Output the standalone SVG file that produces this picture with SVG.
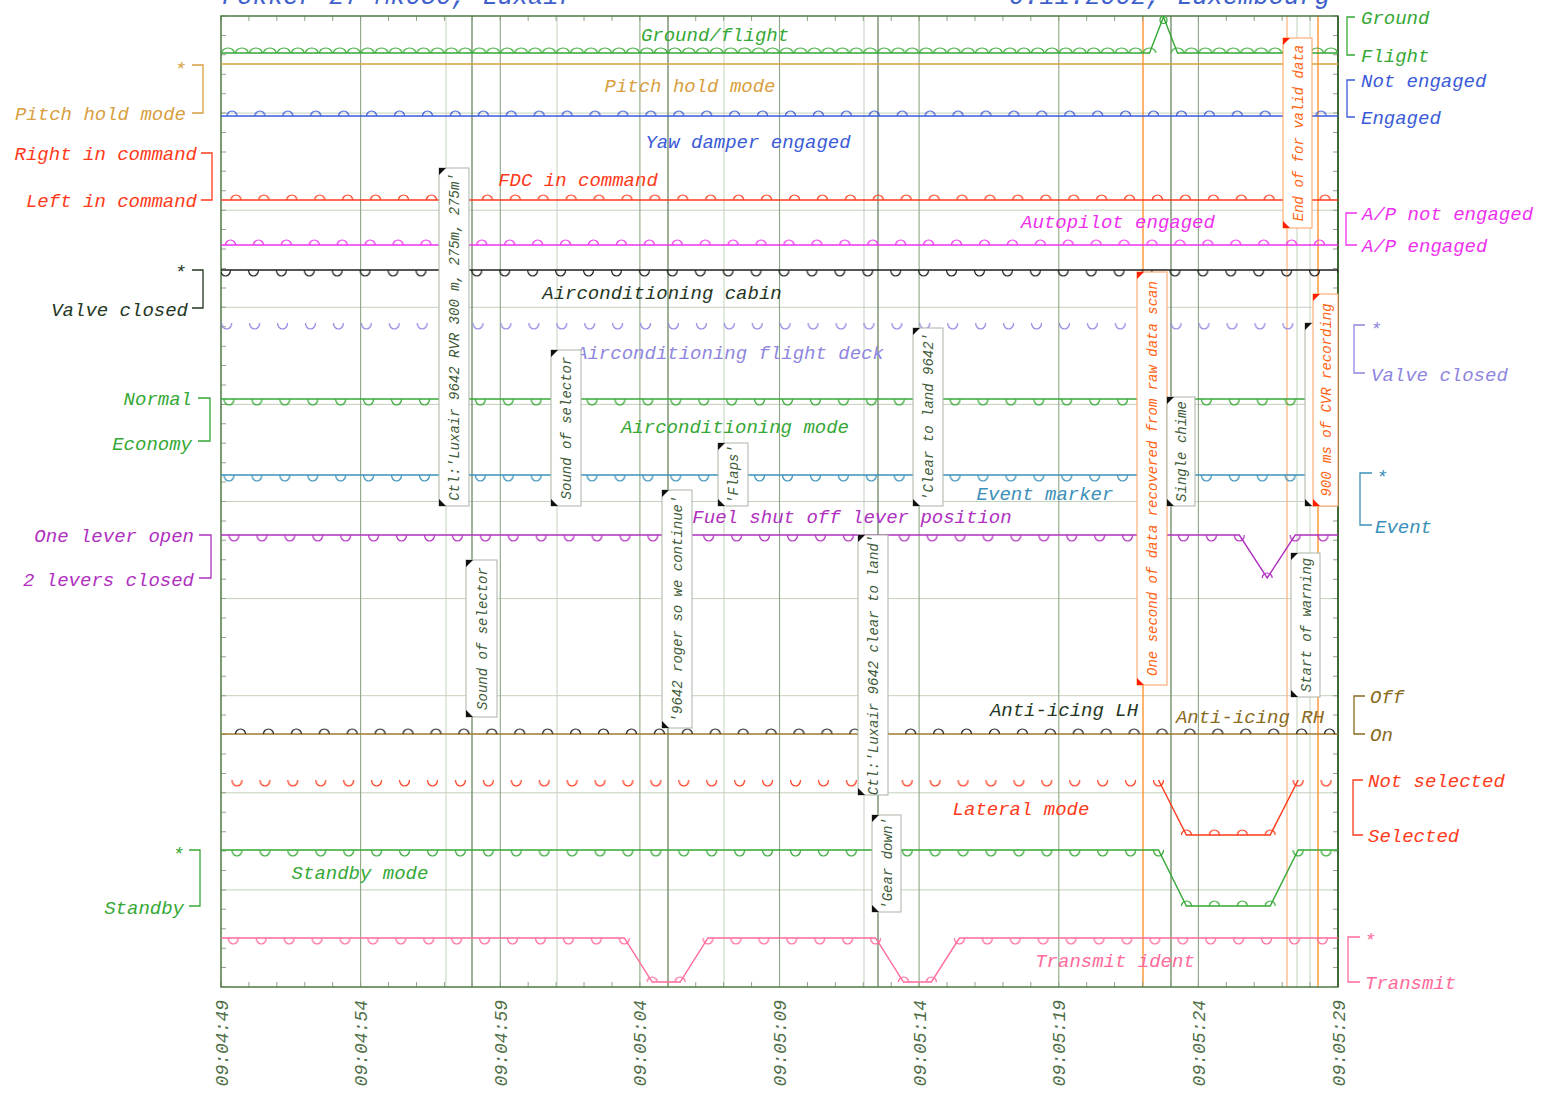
<svg xmlns="http://www.w3.org/2000/svg" width="1543" height="1093" viewBox="0 0 1543 1093">
<defs>
<style>
text{font-family:"Liberation Mono","DejaVu Sans Mono",monospace;font-style:italic}
.l{font-size:19px}
.c{font-size:14px}
.ax{font-size:18px;fill:#4f6e48}
.ti{font-size:25.5px;fill:#4060cc}
.box{fill:#fff;stroke:#a9b3a6;stroke-width:1}
.obox{fill:#fff;stroke:#ff9d5c;stroke-width:1}
.ct{fill:#3f5c3a}
.oct{fill:#ff6414}
.tri{fill:#111}
.otri{fill:#ff1e00}
.gl{stroke:#c3d1bd;stroke-width:1;fill:none}
.gd{stroke:#5f7f55;stroke-width:1.2;fill:none}
.gm{stroke:#8ea685;stroke-width:1.1;fill:none}
.tr{fill:none;stroke-width:1.4}
.br{fill:none;stroke-width:1.3}
.mk{fill:none;stroke-width:1.2}
</style>
<pattern id="pGF" patternUnits="userSpaceOnUse" x="221.2" y="43" width="13.9625" height="12"><path class="mk" d="M0.5,10a6.3,5 0 0 1 12.6,0" stroke="#35a835"/></pattern>
<pattern id="pYaw" patternUnits="userSpaceOnUse" x="226.5" y="106" width="27.925" height="12"><path class="mk" d="M0.5,10a5,5 0 0 1 10,0" stroke="#3a5ad8"/></pattern>
<pattern id="pFDC" patternUnits="userSpaceOnUse" x="230.5" y="190" width="27.925" height="12"><path class="mk" d="M0.5,10a5,5 0 0 1 10,0" stroke="#ff3a1a"/></pattern>
<pattern id="pAP" patternUnits="userSpaceOnUse" x="225" y="235" width="27.925" height="12"><path class="mk" d="M0.5,10a5,5 0 0 1 10,0" stroke="#ee30ee"/></pattern>
<pattern id="pCab" patternUnits="userSpaceOnUse" x="220" y="268" width="27.925" height="12"><path class="mk" d="M0.5,2a5,6 0 0 0 10,0" stroke="#1e1e1e"/></pattern>
<pattern id="pDeck" patternUnits="userSpaceOnUse" x="221.2" y="321" width="27.925" height="12"><path class="mk" d="M0.5,2a5,6 0 0 0 10,0" stroke="#8f86e0"/></pattern>
<pattern id="pMode" patternUnits="userSpaceOnUse" x="223.5" y="397" width="27.925" height="12"><path class="mk" d="M0.5,2a5,6 0 0 0 10,0" stroke="#35a835"/></pattern>
<pattern id="pEvt" patternUnits="userSpaceOnUse" x="223.5" y="473" width="27.925" height="12"><path class="mk" d="M0.5,2a5,6 0 0 0 10,0" stroke="#3a90b8"/></pattern>
<pattern id="pFuel" patternUnits="userSpaceOnUse" x="228.5" y="533" width="27.925" height="12"><path class="mk" d="M0.5,2a5,6 0 0 0 10,0" stroke="#b030c0"/></pattern>
<pattern id="pAnti" patternUnits="userSpaceOnUse" x="235" y="724" width="27.925" height="12"><path class="mk" d="M0.5,10a5,5 0 0 1 10,0" stroke="#1e1e1e"/></pattern>
<pattern id="pLatT" patternUnits="userSpaceOnUse" x="231.5" y="778" width="27.925" height="12"><path class="mk" d="M0.5,2a5,6 0 0 0 10,0" stroke="#ff3a1a"/></pattern>
<pattern id="pLatB" patternUnits="userSpaceOnUse" x="231.5" y="825" width="27.925" height="12"><path class="mk" d="M0.5,10a5,5 0 0 1 10,0" stroke="#ff3a1a"/></pattern>
<pattern id="pStbT" patternUnits="userSpaceOnUse" x="231.5" y="848" width="27.925" height="12"><path class="mk" d="M0.5,2a5,6 0 0 0 10,0" stroke="#35a835"/></pattern>
<pattern id="pStbB" patternUnits="userSpaceOnUse" x="231.5" y="896" width="27.925" height="12"><path class="mk" d="M0.5,10a5,5 0 0 1 10,0" stroke="#35a835"/></pattern>
<pattern id="pTrnT" patternUnits="userSpaceOnUse" x="227.8" y="936" width="27.925" height="12"><path class="mk" d="M0.5,2a5,6 0 0 0 10,0" stroke="#ff6a9a"/></pattern>
<pattern id="pTrnB" patternUnits="userSpaceOnUse" x="227.8" y="972" width="27.925" height="12"><path class="mk" d="M0.5,10a5,5 0 0 1 10,0" stroke="#ff6a9a"/></pattern>
</defs>

<rect x="0" y="0" width="1543" height="1093" fill="#fff"/>

<g id="title">
<text class="ti" x="222" y="4">Fokker 27 Mk050, Luxair</text>
<text class="ti" x="1330" y="4" text-anchor="end">6.11.2002, Luxembourg</text>
</g>

<g id="grid">
<path class="gl" d="M221,113.1H1338M221,210.2H1338M221,307.3H1338M221,404.4H1338M221,501.5H1338M221,598.6H1338M221,695.7H1338M221,792.8H1338M221,889.9H1338"/>
<path class="gm" d="M360.6,16V987M500.3,16V987M639.9,16V987M779.5,16V987M919.1,16V987M1058.8,16V987M1198.4,16V987"/>
<path class="gl" d="M446,16V987M557,16V987M724,16V987M864,16V987M1297,16V987M1310,16V987" stroke="#b3c4ab"/>
<path class="gd" d="M472,16V987M668,16V987M878,16V987M1171,16V987"/>
<path fill="none" stroke="#ff8a20" stroke-width="1.3" d="M1143,16V987M1318,16V987"/>
<path fill="none" stroke="#ffb27a" stroke-width="1.2" d="M1287,16V987"/>
<line x1="220.5" y1="18.5" x2="1338" y2="18.5" stroke="#8ea685" stroke-width="5" stroke-dasharray="1 26.925"/>
<line x1="220.5" y1="984.5" x2="1338" y2="984.5" stroke="#8ea685" stroke-width="5" stroke-dasharray="1 26.925"/>
<line x1="223.5" y1="15.5" x2="223.5" y2="987" stroke="#8ea685" stroke-width="5" stroke-dasharray="1 18.42"/>
<line x1="1335.5" y1="15.5" x2="1335.5" y2="987" stroke="#8ea685" stroke-width="5" stroke-dasharray="1 18.42"/>
<rect x="221" y="16" width="1117" height="971" fill="none" stroke="#4f7a45" stroke-width="1.5"/>
<path d="M1338,16V987" stroke="#3f6a38" stroke-width="2"/>
</g>

<g id="sig-groundflight">
<polyline class="tr" stroke="#35a835" points="221,53 1149.5,53 1163.5,17 1177.5,53 1338,53"/>
<circle cx="1163.5" cy="20" r="3.5" fill="none" stroke="#35a835" stroke-width="1.2"/>
<rect x="221" y="43" width="935.5" height="12" fill="url(#pGF)"/>
<rect x="1171" y="43" width="167" height="12" fill="url(#pGF)"/>
<text class="l" x="715" y="41" text-anchor="middle" fill="#35a835">Ground/flight</text>
<path class="br" stroke="#35a835" d="M1355,17H1347V55H1355"/>
<text class="l" x="1361" y="24" fill="#35a835">Ground</text>
<text class="l" x="1361" y="62" fill="#35a835">Flight</text>
</g>

<g id="sig-pitch">
<path class="tr" stroke="#d8a040" d="M221,64H1338"/>
<text class="l" x="690" y="92" text-anchor="middle" fill="#d8a040">Pitch hold mode</text>
<path class="br" stroke="#d8a040" d="M192,65H203V113H192"/>
<text class="l" x="186" y="74.5" text-anchor="end" fill="#d8a040">*</text>
<text class="l" x="186" y="120" text-anchor="end" fill="#d8a040">Pitch hold mode</text>
</g>

<g id="sig-yaw">
<path class="tr" stroke="#3a5ad8" d="M221,116H1338"/>
<rect x="221" y="106" width="1117" height="12" fill="url(#pYaw)"/>
<text class="l" x="748" y="148" text-anchor="middle" fill="#3a5ad8">Yaw damper engaged</text>
<path class="br" stroke="#3a5ad8" d="M1355,80H1347V117H1355"/>
<text class="l" x="1361" y="87" fill="#3a5ad8">Not engaged</text>
<text class="l" x="1361" y="124" fill="#3a5ad8">Engaged</text>
</g>

<g id="sig-fdc">
<path class="tr" stroke="#ff3a1a" d="M221,200H1338"/>
<rect x="221" y="190" width="1117" height="12" fill="url(#pFDC)"/>
<text class="l" x="578" y="186" text-anchor="middle" fill="#ff3a1a">FDC in command</text>
<path class="br" stroke="#ff3a1a" d="M201,153H212V200H201"/>
<text class="l" x="197" y="160" text-anchor="end" fill="#ff3a1a">Right in command</text>
<text class="l" x="197" y="207" text-anchor="end" fill="#ff3a1a">Left in command</text>
</g>

<g id="sig-autopilot">
<path class="tr" stroke="#ee30ee" d="M221,245H1338"/>
<rect x="221" y="235" width="1117" height="12" fill="url(#pAP)"/>
<text class="l" x="1118" y="228" text-anchor="middle" fill="#ee30ee">Autopilot engaged</text>
<path class="br" stroke="#ee30ee" d="M1357,213H1346V245H1357"/>
<text class="l" x="1362" y="220" fill="#ee30ee">A/P not engaged</text>
<text class="l" x="1362" y="252" fill="#ee30ee">A/P engaged</text>
</g>

<g id="sig-aircond-cabin">
<path class="tr" stroke="#1e1e1e" d="M221,270H1338"/>
<rect x="221" y="268" width="1117" height="12" fill="url(#pCab)"/>
<text class="l" x="662" y="299" text-anchor="middle" fill="#24361f">Airconditioning cabin</text>
<path class="br" stroke="#24361f" d="M192,270H203V308H192"/>
<text class="l" x="186" y="277.5" text-anchor="end" fill="#24361f">*</text>
<text class="l" x="188" y="316" text-anchor="end" fill="#24361f">Valve closed</text>
</g>

<g id="sig-aircond-deck">
<rect x="221" y="321" width="1117" height="12" fill="url(#pDeck)"/>
<text class="l" x="730" y="359" text-anchor="middle" fill="#8f86e0">Airconditioning flight deck</text>
<path class="br" stroke="#8f86e0" d="M1365,325H1354V373H1365"/>
<text class="l" x="1370" y="334.5" fill="#8f86e0">*</text>
<text class="l" x="1371" y="381" fill="#8f86e0">Valve closed</text>
</g>

<g id="sig-aircond-mode">
<path class="tr" stroke="#35a835" d="M221,399H1338"/>
<rect x="221" y="397" width="1117" height="12" fill="url(#pMode)"/>
<text class="l" x="735" y="433" text-anchor="middle" fill="#35a835">Airconditioning mode</text>
<path class="br" stroke="#35a835" d="M198,398H210V441H198"/>
<text class="l" x="192" y="405" text-anchor="end" fill="#35a835">Normal</text>
<text class="l" x="192" y="450" text-anchor="end" fill="#35a835">Economy</text>
</g>

<g id="sig-event">
<path class="tr" stroke="#3a90b8" d="M221,475H1338"/>
<rect x="221" y="473" width="1117" height="12" fill="url(#pEvt)"/>
<text class="l" x="1045" y="500" text-anchor="middle" fill="#3a90b8">Event marker</text>
<path class="br" stroke="#3a90b8" d="M1372,473H1360V525H1372"/>
<text class="l" x="1376" y="482.5" fill="#3a90b8">*</text>
<text class="l" x="1375" y="533" fill="#3a90b8">Event</text>
</g>

<g id="sig-fuel">
<polyline class="tr" stroke="#b030c0" points="221,535 1239.3,535 1267.2,578 1295.2,535 1338,535"/>
<rect x="221" y="533" width="1024.5" height="12" fill="url(#pFuel)"/>
<rect x="1289" y="533" width="49" height="12" fill="url(#pFuel)"/>
<path class="mk" stroke="#b030c0" d="M1262.2,578a5,5 0 0 1 10,0"/>
<text class="l" x="852" y="523" text-anchor="middle" fill="#b030c0">Fuel shut off lever position</text>
<path class="br" stroke="#b030c0" d="M199,535H211V578H199"/>
<text class="l" x="194" y="542" text-anchor="end" fill="#b030c0">One lever open</text>
<text class="l" x="194" y="586" text-anchor="end" fill="#b030c0">2 levers closed</text>
</g>

<g id="sig-antiicing">
<path class="tr" stroke="#a07a30" d="M221,734H1338"/>
<rect x="221" y="724" width="1117" height="12" fill="url(#pAnti)"/>
<text class="l" x="1064" y="716" text-anchor="middle" fill="#24361f">Anti-icing LH</text>
<text class="l" x="1250" y="723" text-anchor="middle" fill="#8a6a20">Anti-icing RH</text>
<path class="br" stroke="#8a6a20" d="M1365,696H1354V734H1365"/>
<text class="l" x="1370" y="703" fill="#8a6a20">Off</text>
<text class="l" x="1370" y="741" fill="#8a6a20">On</text>
</g>

<g id="sig-lateral">
<polyline class="tr" stroke="#ff3a1a" points="1158.5,780 1186.4,835 1270.2,835 1298.2,780"/>
<rect x="221" y="778" width="943.5" height="12" fill="url(#pLatT)"/>
<rect x="1292" y="778" width="46" height="12" fill="url(#pLatT)"/>
<rect x="1180" y="825" width="96.5" height="12" fill="url(#pLatB)"/>
<text class="l" x="1021" y="815" text-anchor="middle" fill="#ff3a1a">Lateral mode</text>
<path class="br" stroke="#ff3a1a" d="M1363,780H1353V835H1363"/>
<text class="l" x="1368" y="787" fill="#ff3a1a">Not selected</text>
<text class="l" x="1368" y="842" fill="#ff3a1a">Selected</text>
</g>

<g id="sig-standby">
<polyline class="tr" stroke="#35a835" points="221,850 1158.5,850 1186.4,906 1270.2,906 1298.2,850 1338,850"/>
<rect x="221" y="848" width="943.5" height="12" fill="url(#pStbT)"/>
<rect x="1292" y="848" width="46" height="12" fill="url(#pStbT)"/>
<rect x="1180" y="896" width="96.5" height="12" fill="url(#pStbB)"/>
<text class="l" x="360" y="879" text-anchor="middle" fill="#35a835">Standby mode</text>
<path class="br" stroke="#35a835" d="M189,850H200V906H189"/>
<text class="l" x="184" y="859.5" text-anchor="end" fill="#35a835">*</text>
<text class="l" x="184" y="914" text-anchor="end" fill="#35a835">Standby</text>
</g>

<g id="sig-transmit">
<polyline class="tr" stroke="#ff6a9a" points="221,938 624.3,938 652.2,982 680.1,982 708,938 875.6,938 903.5,982 931.4,982 959.4,938 1338,938"/>
<rect x="221" y="936" width="409.5" height="12" fill="url(#pTrnT)"/>
<rect x="702" y="936" width="179.5" height="12" fill="url(#pTrnT)"/>
<rect x="953.5" y="936" width="384.5" height="12" fill="url(#pTrnT)"/>
<rect x="646" y="972" width="40.5" height="12" fill="url(#pTrnB)"/>
<rect x="897.5" y="972" width="40" height="12" fill="url(#pTrnB)"/>
<text class="l" x="1115" y="967" text-anchor="middle" fill="#ff6a9a">Transmit ident</text>
<path class="br" stroke="#ff6a9a" d="M1360,937H1348V982H1360"/>
<text class="l" x="1364" y="946" fill="#ff6a9a">*</text>
<text class="l" x="1365" y="989" fill="#ff6a9a">Transmit</text>
</g>

<g id="callouts">
<g id="c-rvr"><rect class="box" x="439" y="168" width="30" height="338"/><path class="tri" d="M439,168h7l-7,7z"/><path class="tri" d="M439,506h7l-7,-7z"/><text class="c ct" transform="translate(459,337) rotate(-90)" text-anchor="middle">Ctl:'Luxair 9642 RVR 300 m, 275m, 275m'</text></g>
<g id="c-sound1"><rect class="box" x="551" y="350" width="30" height="156"/><path class="tri" d="M551,350h7l-7,7z"/><path class="tri" d="M551,506h7l-7,-7z"/><text class="c ct" transform="translate(571,428) rotate(-90)" text-anchor="middle">Sound of selector</text></g>
<g id="c-flaps"><rect class="box" x="718" y="443" width="30" height="63"/><path class="tri" d="M718,443h7l-7,7z"/><path class="tri" d="M718,506h7l-7,-7z"/><text class="c ct" transform="translate(738,474.5) rotate(-90)" text-anchor="middle">'Flaps'</text></g>
<g id="c-clear"><rect class="box" x="913" y="328" width="30" height="178"/><path class="tri" d="M913,328h7l-7,7z"/><path class="tri" d="M913,506h7l-7,-7z"/><text class="c ct" transform="translate(933,417) rotate(-90)" text-anchor="middle">'Clear to land 9642'</text></g>
<g id="c-sound2"><rect class="box" x="466" y="560" width="31" height="157"/><path class="tri" d="M466,560h7l-7,7z"/><path class="tri" d="M466,717h7l-7,-7z"/><text class="c ct" transform="translate(487,638.5) rotate(-90)" text-anchor="middle">Sound of selector</text></g>
<g id="c-roger"><rect class="box" x="662" y="490" width="30" height="238"/><path class="tri" d="M662,490h7l-7,7z"/><path class="tri" d="M662,728h7l-7,-7z"/><text class="c ct" transform="translate(682,609) rotate(-90)" text-anchor="middle">'9642 roger so we continue'</text></g>
<g id="c-ctlclear"><rect class="box" x="858" y="535" width="30" height="260"/><path class="tri" d="M858,535h7l-7,7z"/><path class="tri" d="M858,795h7l-7,-7z"/><text class="c ct" transform="translate(878,665) rotate(-90)" text-anchor="middle">Ctl:'Luxair 9642 clear to land'</text></g>
<g id="c-gear"><rect class="box" x="872" y="815" width="29" height="97"/><path class="tri" d="M872,815h7l-7,7z"/><path class="tri" d="M872,912h7l-7,-7z"/><text class="c ct" transform="translate(891.5,863.5) rotate(-90)" text-anchor="middle">'Gear down'</text></g>
<g id="c-onesecond"><rect class="obox" x="1137" y="272" width="30" height="413"/><path class="otri" d="M1137,272h7l-7,7z"/><path class="otri" d="M1137,685h7l-7,-7z"/><text class="c oct" transform="translate(1157,478.5) rotate(-90)" text-anchor="middle">One second of data recovered from raw data scan</text></g>
<g id="c-chime"><rect class="box" x="1167" y="397" width="28" height="109"/><path class="tri" d="M1167,397h7l-7,7z"/><path class="tri" d="M1167,506h7l-7,-7z"/><text class="c ct" transform="translate(1186,451.5) rotate(-90)" text-anchor="middle">Single chime</text></g>
<g id="c-warning"><rect class="box" x="1291" y="553" width="29" height="144"/><path class="tri" d="M1291,553h7l-7,7z"/><path class="tri" d="M1291,697h7l-7,-7z"/><text class="c ct" transform="translate(1310.5,625) rotate(-90)" text-anchor="middle">Start of warning</text></g>
<g id="c-hidden"><rect class="box" x="1305" y="323" width="30" height="183" stroke="#333"/><path class="tri" d="M1305,323h7l-7,7z"/><path class="tri" d="M1305,506h7l-7,-7z"/></g>
<g id="c-cvr"><rect class="obox" x="1313" y="294" width="25" height="212"/><path class="otri" d="M1313,294h7l-7,7z"/><path class="otri" d="M1313,506h7l-7,-7z"/><text class="c oct" transform="translate(1331,400) rotate(-90)" text-anchor="middle">900 ms of CVR recording</text></g>
<g id="c-validdata"><rect class="obox" x="1283" y="38" width="29" height="190"/><path class="otri" d="M1283,38h7l-7,7z"/><path class="otri" d="M1283,228h7l-7,-7z"/><text class="c oct" transform="translate(1302.5,133) rotate(-90)" text-anchor="middle">End of for valid data</text></g>
</g>

<g id="time-axis">
<text class="ax" transform="translate(227.5,1000) rotate(-90)" text-anchor="end">09:04:49</text>
<text class="ax" transform="translate(367.1,1000) rotate(-90)" text-anchor="end">09:04:54</text>
<text class="ax" transform="translate(506.8,1000) rotate(-90)" text-anchor="end">09:04:59</text>
<text class="ax" transform="translate(646.4,1000) rotate(-90)" text-anchor="end">09:05:04</text>
<text class="ax" transform="translate(786,1000) rotate(-90)" text-anchor="end">09:05:09</text>
<text class="ax" transform="translate(925.6,1000) rotate(-90)" text-anchor="end">09:05:14</text>
<text class="ax" transform="translate(1065.3,1000) rotate(-90)" text-anchor="end">09:05:19</text>
<text class="ax" transform="translate(1204.9,1000) rotate(-90)" text-anchor="end">09:05:24</text>
<text class="ax" transform="translate(1344.5,1000) rotate(-90)" text-anchor="end">09:05:29</text>
</g>
</svg>
